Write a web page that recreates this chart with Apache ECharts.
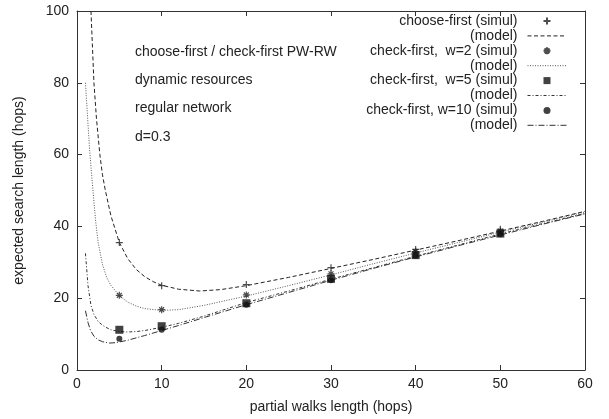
<!DOCTYPE html>
<html>
<head>
<meta charset="utf-8">
<script src="https://cdn.jsdelivr.net/npm/echarts@6/dist/echarts.min.js"></script>
<style>html,body{margin:0;padding:0;background:#fff}#c{width:609px;height:419px}</style>
</head>
<body>
<div id="c"></div>
<script>
// ---- data ----
var simulX = [5, 10, 20, 30, 40, 50];
var cfSimulY  = [35.5, 23.5, 23.8, 28.5, 33.6, 39.2];
var w2SimulY  = [20.8, 16.8, 20.9, 26.8, 33.0, 38.7];
var w5SimulY  = [11.2, 12.2, 18.6, 25.4, 32.0, 38.0];
var w10SimulY = [8.7, 11.2, 18.2, 25.0, 31.8, 37.8];

var cfModelX = [1.65, 2, 2.3, 2.7, 3, 3.35, 4, 4.8, 5, 6, 7, 8, 9, 10, 12, 14.5, 17, 20, 25, 30, 35, 40, 45, 50, 55, 60];
var cfModelY = [100, 80, 70, 60, 54.5, 50, 43, 37, 35.5, 31, 28, 26, 24.6, 23.6, 22.5, 22, 22.4, 23.5, 25.8, 28.3, 30.8, 33.4, 36, 38.7, 41.4, 44.2];

var w2ModelX = [1, 1.26, 1.5, 1.85, 2.2, 2.5, 3, 3.5, 4, 5, 6, 7, 8, 10, 12, 15, 20, 25, 30, 35, 40, 45, 50, 55, 60];
var w2ModelY = [80, 70, 61, 51, 41.5, 35.5, 29.5, 25.8, 23.6, 20.7, 18.9, 17.8, 17.1, 16.6, 16.8, 18, 20.6, 23.5, 26.5, 29.6, 32.6, 35.5, 38.4, 41.2, 44];

var w5ModelX = [1, 1.3, 1.65, 2, 2.5, 3, 3.4, 4, 5, 6, 7, 8, 10, 12, 15, 20, 25, 30, 35, 40, 45, 50, 55, 60];
var w5ModelY = [32.5, 23.5, 18, 15.5, 13.5, 12.5, 11.9, 11.2, 10.7, 10.6, 10.7, 11, 11.9, 13, 15, 18.8, 22, 25.3, 28.5, 31.7, 34.8, 37.9, 40.8, 43.6];

var w10ModelX = [1, 1.3, 1.6, 2, 2.5, 3, 3.8, 4.5, 5, 6, 8, 10, 12, 15, 20, 25, 30, 35, 40, 45, 50, 55, 60];
var w10ModelY = [16.5, 13.2, 11, 9.4, 8.4, 7.9, 7.5, 7.6, 7.8, 8.3, 9.6, 11, 12.4, 14.6, 18.2, 21.6, 25, 28.3, 31.5, 34.6, 37.6, 40.6, 43.5];

var xTicks = [0, 10, 20, 30, 40, 50, 60];
var yTicks = [0, 20, 40, 60, 80, 100];

var seriesNames = [
  'choose-first (simul)', 'choose-first (model)',
  'check-first,  w=2 (simul)', 'check-first,  w=2 (model)',
  'check-first,  w=5 (simul)', 'check-first,  w=5 (model)',
  'check-first, w=10 (simul)', 'check-first, w=10 (model)'
];
var annotations = ['choose-first / check-first PW-RW', 'dynamic resources', 'regular network', 'd=0.3'];
var xName = 'partial walks length (hops)';
var yName = 'expected search length (hops)';

// ---- build ----
function pairs(xs, ys) { return xs.map(function (x, i) { return [x, ys[i]]; }); }
var FONT = 'Liberation Sans, Arial, Helvetica, sans-serif';
var FS = 14;
var TXT = '#222';
var plusPath = 'path://M0,5L10,5M5,0L5,10';
var starPath = 'path://M0,5L10,5M5,0L5,10M1.5,1.5L8.5,8.5M1.5,8.5L8.5,1.5';
var squarePath = 'path://M0,0L10,0L10,10L0,10Z';

function simul(name, ys, symbol, size) {
  var stroke = symbol === plusPath || symbol === starPath;
  return {
    name: name, type: 'scatter', data: pairs(simulX, ys), symbol: symbol, symbolSize: size,
    itemStyle: stroke ? { color: 'rgba(0,0,0,0)', borderColor: '#222', borderWidth: 1.2 } : { color: '#111' },
    z: 5
  };
}
function model(name, xs, ys, dash, color) {
  return {
    name: name, type: 'line', data: pairs(xs, ys), symbol: 'none', showSymbol: false,
    smooth: false,
    lineStyle: { color: color, width: 1, type: dash },
    itemStyle: { color: color },
    z: 3
  };
}

var tickAxisCommon = {
  type: 'value',
  axisLine: { show: true, onZero: false, lineStyle: { color: '#333', width: 1 } },
  axisTick: { show: true, inside: true, length: 5, lineStyle: { color: '#333' } },
  splitLine: { show: false }
};

var legendData = seriesNames.map(function (n) {
  return /\(model\)$/.test(n) ? { name: n, itemStyle: { opacity: 0 }, lineStyle: { width: 1 } } : { name: n };
});

var option = {
  animation: false,
  backgroundColor: '#fff',
  textStyle: { fontFamily: FONT },
  grid: { left: 77, right: 24, top: 11, bottom: 48, containLabel: false },
  xAxis: [
    Object.assign({}, tickAxisCommon, {
      position: 'bottom', min: xTicks[0], max: xTicks[xTicks.length - 1], interval: xTicks[1] - xTicks[0],
      axisLabel: { color: TXT, fontSize: FS, margin: 7, fontFamily: FONT },
      name: xName, nameLocation: 'middle', nameGap: 30,
      nameTextStyle: { color: TXT, fontSize: FS, fontFamily: FONT }
    }),
    Object.assign({}, tickAxisCommon, {
      position: 'top', min: xTicks[0], max: xTicks[xTicks.length - 1], interval: xTicks[1] - xTicks[0],
      axisLabel: { show: false }
    })
  ],
  yAxis: [
    Object.assign({}, tickAxisCommon, {
      position: 'left', min: yTicks[0], max: yTicks[yTicks.length - 1], interval: yTicks[1] - yTicks[0],
      axisLabel: { color: TXT, fontSize: FS, margin: 8, fontFamily: FONT },
      name: yName, nameLocation: 'middle', nameGap: 51,
      nameTextStyle: { color: TXT, fontSize: FS, fontFamily: FONT }
    }),
    Object.assign({}, tickAxisCommon, {
      position: 'right', min: yTicks[0], max: yTicks[yTicks.length - 1], interval: yTicks[1] - yTicks[0],
      axisLabel: { show: false }
    })
  ],
  legend: {
    data: legendData,
    orient: 'vertical', align: 'right', right: 42, top: 14, padding: 0,
    itemWidth: 39, itemHeight: 7, itemGap: 0.9,
    formatter: function (n) { return /\(model\)$/.test(n) ? '(model)' : n; },
    textStyle: { color: TXT, fontSize: FS, fontFamily: FONT, lineHeight: 14, padding: [0, 5, 0, 0] },
    selectedMode: false
  },
  graphic: annotations.map(function (t, i) {
    return {
      type: 'text', x: 135, y: 52 + i * 28.3,
      style: { text: t, fill: TXT, font: FS + 'px ' + FONT, verticalAlign: 'middle', align: 'left' }
    };
  }),
  series: [
    simul(seriesNames[0], cfSimulY, plusPath, 7),
    model(seriesNames[1], cfModelX, cfModelY, [4, 2.5], '#222'),
    simul(seriesNames[2], w2SimulY, starPath, 7),
    model(seriesNames[3], w2ModelX, w2ModelY, [1, 1.5], '#555'),
    simul(seriesNames[4], w5SimulY, squarePath, 8),
    model(seriesNames[5], w5ModelX, w5ModelY, [3, 2, 1, 2], '#333'),
    simul(seriesNames[6], w10SimulY, 'circle', 6),
    model(seriesNames[7], w10ModelX, w10ModelY, [6, 2, 1, 2], '#333')
  ]
};
var chart = echarts.init(document.getElementById('c'), null, { renderer: 'canvas' });
chart.setOption(option);
</script>
</body>
</html>
